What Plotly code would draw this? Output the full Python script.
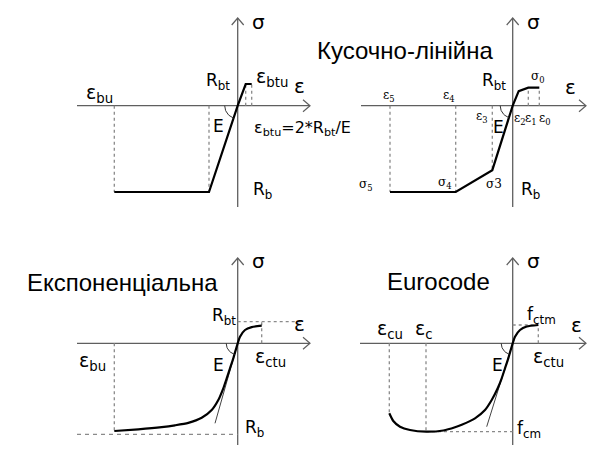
import numpy as np
import plotly.graph_objects as go

W, H = 602, 469
PX = 10.0  # pixels per schematic unit

# ---------------- data (schematic strain / stress units) ----------------
# Panel 1: bilinear-type diagram
p1_strain = [-12.34, -2.87, 0.0, 0.80, 1.40]
p1_stress = [-8.63, -8.63, 0.0, 2.17, 2.17]

# Panel 2: piecewise-linear ("Кусочно-лінійна")
p2_strain = [-12.27, -5.70, -2.04, 0.0, 0.60, 1.56, 2.66]
p2_stress = [-8.63, -8.63, -6.45, 0.0, 1.45, 1.80, 1.80]

# Panel 3: exponential ("Експоненціальна")
p3_strain = [-12.34, -9.94, -7.60, -6.27, -4.94, -3.60, -2.60, -1.94, -1.44,
             -1.10, -0.77, -0.44, 0.0, 0.23, 0.73, 1.40, 2.40]
p3_stress = [-8.77, -8.60, -8.38, -8.20, -7.96, -7.45, -6.67, -5.67, -4.50,
             -3.50, -2.50, -1.50, 0.0, 0.66, 1.33, 1.62, 1.76]
p3_Rb = -9.1
p3_Rbt = 2.16
p3_tangent = [-2.27, -8.0]

# Panel 4: Eurocode
p4_strain = [-12.34, -11.94, -11.27, -10.27, -8.67, -6.94, -5.77, -5.10, -3.77,
             -2.77, -2.10, -1.50, -1.10, -0.77, -0.44, 0.0, 0.23, 0.73, 1.40, 2.56]
p4_stress = [-7.00, -7.77, -8.34, -8.67, -8.84, -8.72, -8.40, -8.15, -7.50,
             -6.67, -5.67, -4.50, -3.50, -2.50, -1.50, 0.0, 0.66, 1.33, 1.68, 1.83]
p4_fcm = -8.84
p4_eps_c = -8.67
p4_fctm = 1.83
p4_tangent = [-2.6, -8.34]

# ---------------- layout of panels (pixel boxes, origins) ----------------
panels = {
    1: dict(box=(0, 330, 0, 234), origin=(237.7, 105.7), xax=(77, 310), yax=(18, 207)),
    2: dict(box=(300, 602, 0, 234), origin=(512.7, 105.7), xax=(361, 586), yax=(18, 207)),
    3: dict(box=(0, 330, 234, 469), origin=(237.7, 343.3), xax=(77, 310), yax=(258, 445)),
    4: dict(box=(300, 602, 234, 469), origin=(512.7, 343.3), xax=(360, 586), yax=(258, 445)),
}

AX_COL = "#5f5f5f"
GUIDE_COL = "#8a8a8a"

fig = go.Figure()
layout_axes = {}


def ax_names(i):
    return ("x" if i == 1 else f"x{i}"), ("y" if i == 1 else f"y{i}")


for i, p in panels.items():
    bx0, bx1, by0, by1 = p["box"]
    ox, oy = p["origin"]
    xr = [(bx0 - ox) / PX, (bx1 - ox) / PX]
    yr = [(oy - by1) / PX, (oy - by0) / PX]
    kx = "xaxis" if i == 1 else f"xaxis{i}"
    ky = "yaxis" if i == 1 else f"yaxis{i}"
    xn, yn = ax_names(i)
    layout_axes[kx] = dict(domain=[bx0 / W, bx1 / W], range=xr, visible=False,
                           anchor=yn, fixedrange=True)
    layout_axes[ky] = dict(domain=[(H - by1) / H, (H - by0) / H], range=yr,
                           visible=False, anchor=xn, fixedrange=True)


def add_line(i, xs, ys, color, width, dash="solid"):
    xn, yn = ax_names(i)
    fig.add_trace(go.Scatter(x=xs, y=ys, mode="lines", xaxis=xn, yaxis=yn,
                             line=dict(color=color, width=width, dash=dash),
                             hoverinfo="skip", showlegend=False))


def add_curve(i, xs, ys, shape="linear"):
    xn, yn = ax_names(i)
    fig.add_trace(go.Scatter(x=xs, y=ys, mode="lines", xaxis=xn, yaxis=yn,
                             line=dict(color="black", width=2.2, shape=shape,
                                       smoothing=0.6),
                             hoverinfo="skip", showlegend=False))


# coordinate axes with open arrowheads
for i, p in panels.items():
    ox, oy = p["origin"]
    x0 = (p["xax"][0] - ox) / PX
    x1 = (p["xax"][1] - ox) / PX
    yt = (oy - p["yax"][0]) / PX
    yb = (oy - p["yax"][1]) / PX
    add_line(i, [x0, x1], [0, 0], AX_COL, 1.3)
    add_line(i, [0, 0], [yb, yt], AX_COL, 1.3)
    a, s = 0.7, 0.6
    add_line(i, [x1 - a, x1, x1 - a], [s, 0, -s], AX_COL, 1.2)
    add_line(i, [-s, 0, s], [yt - a, yt, yt - a], AX_COL, 1.2)


def arc(i, r, ex, ey):
    end = np.degrees(np.arctan2(ey, ex)) % 360
    t = np.radians(np.linspace(180, end, 25))
    add_line(i, list(r * np.cos(t)), list(r * np.sin(t)), "#333333", 1.0)


# ---- panel 1
g = dict(color=GUIDE_COL, width=1.3, dash="dot")
for k in (0, 1):
    add_line(1, [p1_strain[k]] * 2, [0, p1_stress[k]], **g)
for k in (3, 4):
    add_line(1, [p1_strain[k]] * 2, [0, p1_stress[k]], **g)
add_curve(1, p1_strain, p1_stress)
arc(1, 1.3, p1_strain[1], p1_stress[1])

# ---- panel 2
for k in (0, 1, 2, 5, 6):
    add_line(2, [p2_strain[k]] * 2, [0, p2_stress[k]], **g)
add_curve(2, p2_strain, p2_stress)
arc(2, 1.25, p2_strain[2], p2_stress[2])

# ---- panel 3
add_line(3, [p3_strain[0]] * 2, [0, p3_stress[0]], **g)
add_line(3, [p3_strain[-1]] * 2, [0, p3_Rbt], **g)
add_line(3, [0, 6.5], [p3_Rbt, p3_Rbt], **g)
add_line(3, [(panels[3]["xax"][0] - panels[3]["origin"][0]) / PX, 0], [p3_Rb, p3_Rb],
         GUIDE_COL, 1.2, "4px,4px")
add_line(3, [0, p3_tangent[0]], [0, p3_tangent[1]], "#444444", 1.0)
add_curve(3, p3_strain, p3_stress, "spline")
arc(3, 1.15, *p3_tangent)

# ---- panel 4
add_line(4, [p4_strain[0]] * 2, [0, p4_stress[0]], **g)
add_line(4, [p4_eps_c] * 2, [0, p4_fcm], **g)
add_line(4, [p4_eps_c, 0], [p4_fcm, p4_fcm], **g)
add_line(4, [0, p4_strain[-1]], [p4_fctm, p4_fctm], **g)
add_line(4, [p4_strain[-1]] * 2, [0, p4_fctm], **g)
add_line(4, [0, p4_tangent[0]], [0, p4_tangent[1]], "#444444", 1.0)
add_curve(4, p4_strain, p4_stress, "spline")
arc(4, 1.15, *p4_tangent)

# ---------------- labels ----------------
SANS = "DejaVu Sans"
SERIF = "DejaVu Serif"
TITLE = "Liberation Sans"
anns = []


def lab(px, py, text, size=18, family=SANS, xanchor="center"):
    if "<sub>" in text and family != SERIF:
        py -= 3
    anns.append(dict(x=px / W, y=1 - py / H, xref="paper", yref="paper", text=text,
                     showarrow=False, xanchor=xanchor, yanchor="middle",
                     font=dict(family=family, size=size, color="black")))


# panel 1
lab(258, 22, "σ", 20)
lab(299, 86, "ε", 20)
lab(272, 80, "ε<sub>btu</sub>", 19)
lab(218, 85, "R<sub>bt</sub>", 17)
lab(99, 96, "ε<sub>bu</sub>", 19)
lab(218, 126, "E", 17)
lab(252, 132, "ε<sub>btu</sub>=2*R<sub>bt</sub>/E", 16, xanchor="left")
lab(262, 194, "R<sub>b</sub>", 17)
# panel 2
lab(533, 22, "σ", 20)
lab(405, 50, "Кусочно-лінійна", 24, TITLE)
lab(494, 84, "R<sub>bt</sub>", 17)
lab(538, 77, "σ<sub>0</sub>", 12, SERIF)
lab(570, 87, "ε", 20)
lab(389, 96, "ε<sub>5</sub>", 12, SERIF)
lab(449, 96, "ε<sub>4</sub>", 12, SERIF)
lab(482, 117, "ε<sub>3</sub>", 12, SERIF)
lab(498, 127, "E", 17)
lab(520, 119, "ε<sub>2</sub>", 12, SERIF)
lab(531, 119, "ε<sub>1</sub>", 12, SERIF)
lab(545, 119, "ε<sub>0</sub>", 12, SERIF)
lab(366, 185, "σ<sub>5</sub>", 12, SERIF)
lab(445, 183, "σ<sub>4</sub>", 12, SERIF)
lab(494, 184, "σ3", 12, SERIF)
lab(530, 194, "R<sub>b</sub>", 17)
# panel 3
lab(258, 261, "σ", 20)
lab(122, 282, "Експоненціальна", 24, TITLE)
lab(224, 319, "R<sub>bt</sub>", 17)
lab(299, 324, "ε", 20)
lab(92, 364, "ε<sub>bu</sub>", 19)
lab(218, 365, "E", 17)
lab(270, 360, "ε<sub>ctu</sub>", 19)
lab(254, 431, "R<sub>b</sub>", 17)
# panel 4
lab(533, 261, "σ", 20)
lab(438, 281, "Eurocode", 24, TITLE)
lab(390, 332, "ε<sub>cu</sub>", 19)
lab(424, 332, "ε<sub>c</sub>", 19)
lab(541, 318, "f<sub>ctm</sub>", 17)
lab(576, 325, "ε", 20)
lab(548, 360, "ε<sub>ctu</sub>", 19)
lab(497, 365, "E", 17)
lab(529, 432, "f<sub>cm</sub>", 17)

fig.update_layout(width=W, height=H, margin=dict(l=0, r=0, t=0, b=0),
                  paper_bgcolor="white", plot_bgcolor="rgba(0,0,0,0)",
                  annotations=anns, showlegend=False, **layout_axes)

fig.write_html("out.html", config={"displayModeBar": False},
               post_script="document.body.style.margin='0';")
